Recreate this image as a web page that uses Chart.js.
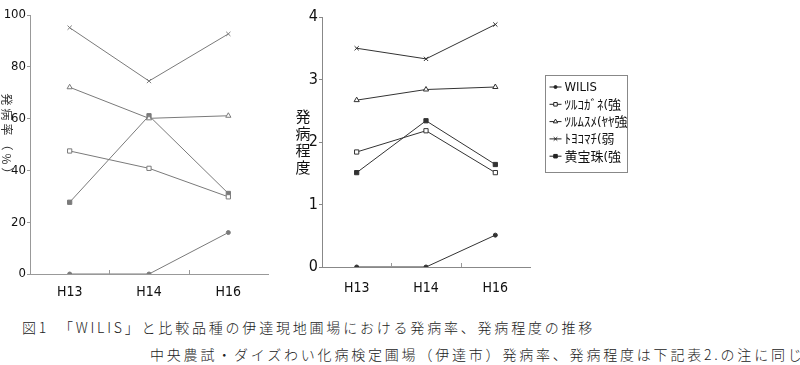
<!DOCTYPE html>
<html lang="ja">
<head>
<meta charset="UTF-8">
<title>WILIS 発病率・発病程度</title>
<style>
  body { margin: 0; background: #fff; width: 800px; height: 365px; overflow: hidden; position: relative; }
  canvas { position: absolute; top: 0; }
  #rateCanvas { left: 0; }
  #sevCanvas { left: 270px; }
  .cap {
    position: absolute;
    font-family: "Noto Sans CJK JP", sans-serif;
    font-size: 14px;
    letter-spacing: 2.8px;
    color: #222;
    white-space: nowrap;
    font-weight: 300;
  }
</style>
</head>
<body>
<canvas id="rateCanvas" width="275" height="300"></canvas>
<canvas id="sevCanvas" width="380" height="300"></canvas>
<div class="cap" style="left:22px; top:317px;">図1　「WILIS」と比較品種の伊達現地圃場における発病率、発病程度の推移</div>
<div class="cap" style="left:150px; top:344px;">中央農試・ダイズわい化病検定圃場（伊達市）発病率、発病程度は下記表2.の注に同じ</div>

<script src="https://cdn.jsdelivr.net/npm/chart.js"></script>
<script>
    const years = ['H13', 'H14', 'H16'];
    const varieties = ['WILIS', 'ﾂﾙｺｶﾞﾈ(強', 'ﾂﾙﾑｽﾒ(ﾔﾔ強', 'ﾄﾖｺﾏﾁ(弱', '黄宝珠(強'];

    // 発病率 (%)
    const wilisRate = [0, 0, 16];
    const tsurukoganeRate = [47.5, 40.8, 29.8];
    const tsurumusumeRate = [72.1, 60.1, 61.1];
    const toyokomachiRate = [95.1, 74.5, 92.7];
    const kohojuRate = [27.7, 61.1, 31.1];

    // 発病程度
    const wilisSev = [0, 0, 0.51];
    const tsurukoganeSev = [1.84, 2.18, 1.51];
    const tsurumusumeSev = [2.67, 2.84, 2.88];
    const toyokomachiSev = [3.5, 3.33, 3.88];
    const kohojuSev = [1.51, 2.34, 1.64];

    const rateTicks = [0, 20, 40, 60, 80, 100];
    const sevTicks = [0, 1, 2, 3, 4];

    const tickFont = "'Liberation Sans Narrow', 'DejaVu Sans Condensed', 'Liberation Sans', sans-serif";

    // marker look for each variety
    const markers = [
        {pointStyle: 'circle', radius: 2, filled: true},
        {pointStyle: 'rect', radius: 3, filled: false},
        {pointStyle: 'triangle', radius: 3, filled: false},
        {pointStyle: 'crossRot', radius: 3, filled: false},
        {pointStyle: 'rect', radius: 3, filled: true}
    ];

    function makeDatasets(seriesList, color) {
        return seriesList.map((vals, i) => ({
            label: varieties[i],
            data: vals,
            borderColor: color,
            borderWidth: 1,
            pointStyle: markers[i].pointStyle,
            pointRadius: markers[i].radius,
            pointBorderColor: color,
            pointBorderWidth: 1,
            pointBackgroundColor: markers[i].filled ? color : '#fff',
            tension: 0
        }));
    }

    // small upward ticks between categories on the x axis
    const boundaryTicks = {
        id: 'boundaryTicks',
        afterDraw(chart) {
            const x = chart.scales.x, ctx = chart.ctx;
            ctx.save();
            ctx.strokeStyle = '#999';
            ctx.lineWidth = 1;
            for (let i = 0; i < years.length - 1; i++) {
                const px = Math.round((x.getPixelForValue(i) + x.getPixelForValue(i + 1)) / 2) + 0.5;
                ctx.beginPath();
                ctx.moveTo(px, x.top - 4);
                ctx.lineTo(px, x.top);
                ctx.stroke();
            }
            ctx.restore();
        }
    };

    // rotated title for the left chart (reads top to bottom)
    const rateTitle = {
        id: 'rateTitle',
        afterDraw(chart) {
            const ctx = chart.ctx;
            ctx.save();
            ctx.translate(7, 138);
            ctx.rotate(Math.PI / 2);
            ctx.font = "12px 'Noto Sans CJK JP'";
            ctx.letterSpacing = '3px';
            ctx.fillStyle = '#333';
            ctx.textAlign = 'center';
            ctx.textBaseline = 'middle';
            ctx.fillText('発病率（%）', 0, 0);
            ctx.restore();
        }
    };

    // stacked title + boxed legend for the right chart
    const sevExtras = {
        id: 'sevExtras',
        afterDraw(chart) {
            const ctx = chart.ctx;
            ctx.save();
            ctx.font = "15px 'Noto Sans CJK JP'";
            ctx.fillStyle = '#111';
            ctx.textAlign = 'center';
            ctx.textBaseline = 'middle';
            '発病程度'.split('').forEach((ch, i) => ctx.fillText(ch, 33, 116 + i * 17));

            // legend box
            const bx = 275.5, by = 75.5, bw = 82, bh = 97;
            ctx.strokeStyle = '#888';
            ctx.lineWidth = 1;
            ctx.strokeRect(bx, by, bw, bh);
            ctx.textAlign = 'left';
            ctx.font = "13px " + tickFont + ", 'Noto Sans CJK JP'";
            chart.data.datasets.forEach((ds, i) => {
                const y = 87 + i * 17.3;
                ctx.strokeStyle = '#222';
                ctx.beginPath();
                ctx.moveTo(bx + 4, y);
                ctx.lineTo(bx + 16, y);
                ctx.stroke();
                ctx.fillStyle = markers[i].filled ? '#222' : '#fff';
                ctx.strokeStyle = '#222';
                Chart.helpers.drawPoint(ctx, {
                    pointStyle: markers[i].pointStyle,
                    radius: markers[i].radius - 0.5,
                    rotation: 0,
                    borderWidth: 1
                }, bx + 10, y);
                ctx.fillStyle = '#111';
                ctx.fillText(ds.label, bx + 19, y + 1);
            });
            ctx.restore();
        }
    };

    function axisOptions(yTicks, yMax, yWidth, xHeight, xPad, yFontSize, axisColor) {
        return {
            x: {
                offset: true,
                grid: {display: false, drawTicks: false},
                border: {color: axisColor},
                ticks: {padding: xPad, color: '#111', font: {family: tickFont, size: 14}},
                afterFit: s => { s.height = xHeight; }
            },
            y: {
                min: 0,
                max: yMax,
                afterBuildTicks: s => { s.ticks = yTicks.map(v => ({value: v})); },
                grid: {drawOnChartArea: false, tickLength: 3, color: axisColor},
                border: {color: axisColor},
                ticks: {padding: 1, color: '#111', font: {family: tickFont, size: yFontSize}},
                afterFit: s => { s.width = yWidth; }
            }
        };
    }

    new Chart(document.getElementById('rateCanvas'), {
        type: 'line',
        data: {
            labels: years,
            datasets: makeDatasets([wilisRate, tsurukoganeRate, tsurumusumeRate, toyokomachiRate, kohojuRate], '#7a7a7a')
        },
        options: {
            responsive: false,
            animation: false,
            layout: {padding: {top: 15, right: 7, left: 0, bottom: 0}},
            plugins: {legend: {display: false}, tooltip: {enabled: false}},
            scales: axisOptions(rateTicks, 100, 30, 26, 10, 13, '#999')
        },
        plugins: [boundaryTicks, rateTitle]
    });

    new Chart(document.getElementById('sevCanvas'), {
        type: 'line',
        data: {
            labels: years,
            datasets: makeDatasets([wilisSev, tsurukoganeSev, tsurumusumeSev, toyokomachiSev, kohojuSev], '#333')
        },
        options: {
            responsive: false,
            animation: false,
            layout: {padding: {top: 17, right: 120, left: 0, bottom: 0}},
            plugins: {legend: {display: false}, tooltip: {enabled: false}},
            scales: axisOptions(sevTicks, 4, 52, 33, 13, 16, '#888')
        },
        plugins: [boundaryTicks, sevExtras]
    });
</script>
</body>
</html>
